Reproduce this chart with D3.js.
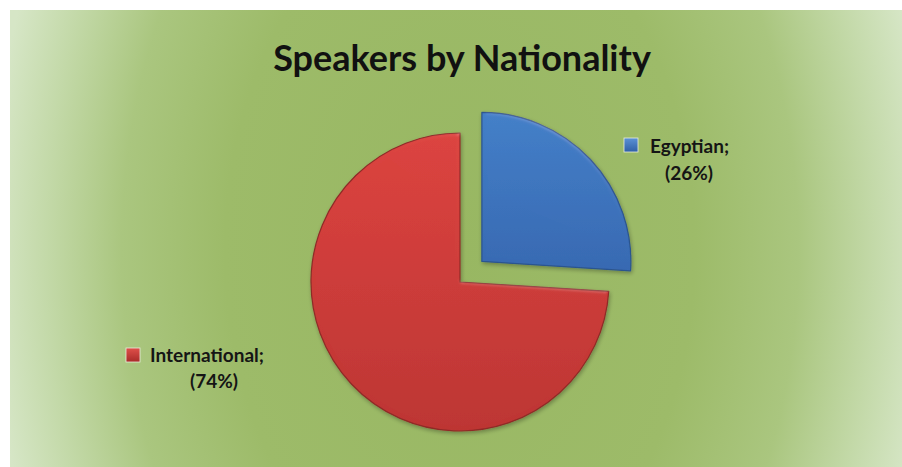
<!DOCTYPE html>
<html>
<head>
<meta charset="utf-8">
<script src="https://cdn.jsdelivr.net/npm/d3@7"></script>
<style>
  html, body { margin: 0; padding: 0; background: #ffffff; }
  svg { display: block; }
</style>
</head>
<body>
<svg id="chart" width="902" height="467"></svg>
<script>
const title = "Speakers by Nationality";
const categories = ["Egyptian", "International"];
const values = [26, 74];
const percentLabels = ["(26%)", "(74%)"];

const W = 902, H = 467;
const svg = d3.select("#chart");
const defs = svg.append("defs");

// background radial gradient (mostly horizontal falloff)
const bg = defs.append("radialGradient")
  .attr("id", "bg").attr("gradientUnits", "userSpaceOnUse")
  .attr("cx", 460).attr("cy", 250).attr("r", 470)
  .attr("gradientTransform", "translate(460,250) scale(1,1.5) translate(-460,-250)");
[[0, "#98b762"], [0.5, "#9dbb69"], [0.72, "#aac67f"], [0.88, "#c3d9a8"], [1, "#d6e6c6"]]
  .forEach(([o, c]) => bg.append("stop").attr("offset", o).attr("stop-color", c));

svg.append("rect").attr("x", 10).attr("y", 10).attr("width", W - 10).attr("height", H - 10)
  .attr("fill", "url(#bg)");

// slice gradients
const grads = [["#437fc8", "#3769b2"], ["#dc433f", "#bd3533"]];
grads.forEach((g, i) => {
  const lg = defs.append("linearGradient").attr("id", "sg" + i)
    .attr("x1", 0).attr("y1", 0).attr("x2", 0).attr("y2", 1);
  lg.append("stop").attr("offset", 0).attr("stop-color", g[0]);
  lg.append("stop").attr("offset", 1).attr("stop-color", g[1]);
});

// soft shadow + subtle bevel
const f = defs.append("filter").attr("id", "bevel").attr("x", "-10%").attr("y", "-10%").attr("width", "120%").attr("height", "120%");
f.append("feGaussianBlur").attr("in", "SourceAlpha").attr("stdDeviation", 2).attr("result", "blur");
f.append("feSpecularLighting").attr("in", "blur").attr("surfaceScale", 2).attr("specularConstant", 0.35)
  .attr("specularExponent", 25).attr("lighting-color", "#ffffff").attr("result", "spec")
  .append("fePointLight").attr("x", 300).attr("y", -600).attr("z", 300);
f.append("feComposite").attr("in", "spec").attr("in2", "SourceAlpha").attr("operator", "in").attr("result", "specIn");
f.append("feComposite").attr("in", "SourceGraphic").attr("in2", "specIn").attr("operator", "arithmetic")
  .attr("k1", 0).attr("k2", 1).attr("k3", 0.18).attr("k4", 0).attr("result", "lit");
f.append("feOffset").attr("in", "SourceAlpha").attr("dx", 1).attr("dy", 2).attr("result", "off");
f.append("feGaussianBlur").attr("in", "off").attr("stdDeviation", 2).attr("result", "sh");
f.append("feComponentTransfer").attr("in", "sh").attr("result", "sh2")
  .append("feFuncA").attr("type", "linear").attr("slope", 0.3);
const fm = f.append("feMerge");
fm.append("feMergeNode").attr("in", "sh2");
fm.append("feMergeNode").attr("in", "lit");

// pie
const cx = 460, cy = 282, R = 149, explode = 30;
const pie = d3.pie().sort(null).value(d => d);
const arcs = pie(values);
const arc = d3.arc().innerRadius(0).outerRadius(R);
const strokes = ["#2b548f", "#8f2a27"];

const g = svg.append("g").attr("transform", `translate(${cx},${cy})`);
g.selectAll("path.slice").data(arcs).join("path")
  .attr("class", "slice")
  .attr("transform", (d, i) => {
    if (i !== 0) return null;
    const mid = (d.startAngle + d.endAngle) / 2;
    return `translate(${Math.sin(mid) * explode},${-Math.cos(mid) * explode})`;
  })
  .attr("d", arc)
  .attr("fill", (d, i) => `url(#sg${i})`)
  .attr("stroke", (d, i) => strokes[i])
  .attr("stroke-width", 1.2)
  .attr("stroke-linejoin", "round")
  .attr("filter", "url(#bevel)");

// title
svg.append("text").attr("x", 462).attr("y", 71)
  .attr("text-anchor", "middle")
  .attr("font-family", "Lato, 'Open Sans', sans-serif")
  .attr("font-weight", 700).attr("font-size", 36)
  .attr("fill", "#111111")
  .text(title);

// data labels with legend keys
const labelPos = [
  { sx: 624, sy: 138, tx: 650, ty: 153, px: 689, py: 180 },
  { sx: 126, sy: 348, tx: 150, ty: 362, px: 214, py: 388 }
];
const keyColors = [["#5b92d6", "#2f5fa6"], ["#e0504a", "#a82a28"]];
keyColors.forEach((c, i) => {
  const lg = defs.append("linearGradient").attr("id", "kg" + i)
    .attr("x1", 0).attr("y1", 0).attr("x2", 0).attr("y2", 1);
  lg.append("stop").attr("offset", 0).attr("stop-color", c[0]);
  lg.append("stop").attr("offset", 1).attr("stop-color", c[1]);
});
const lab = svg.append("g").selectAll("g").data(categories).join("g");
lab.append("rect")
  .attr("x", (d, i) => labelPos[i].sx).attr("y", (d, i) => labelPos[i].sy)
  .attr("width", 14).attr("height", 14)
  .attr("fill", (d, i) => `url(#kg${i})`)
  .attr("stroke", "#e8eedc").attr("stroke-width", 0.8);
lab.append("text")
  .attr("x", (d, i) => labelPos[i].tx).attr("y", (d, i) => labelPos[i].ty)
  .attr("font-family", "Lato, 'Open Sans', sans-serif")
  .attr("font-weight", 700).attr("font-size", 19).attr("fill", "#151515")
  .text(d => d + ";");
lab.append("text")
  .attr("x", (d, i) => labelPos[i].px).attr("y", (d, i) => labelPos[i].py)
  .attr("text-anchor", "middle")
  .attr("font-family", "Lato, 'Open Sans', sans-serif")
  .attr("font-weight", 700).attr("font-size", 19).attr("fill", "#151515")
  .text((d, i) => percentLabels[i]);
</script>
</body>
</html>
